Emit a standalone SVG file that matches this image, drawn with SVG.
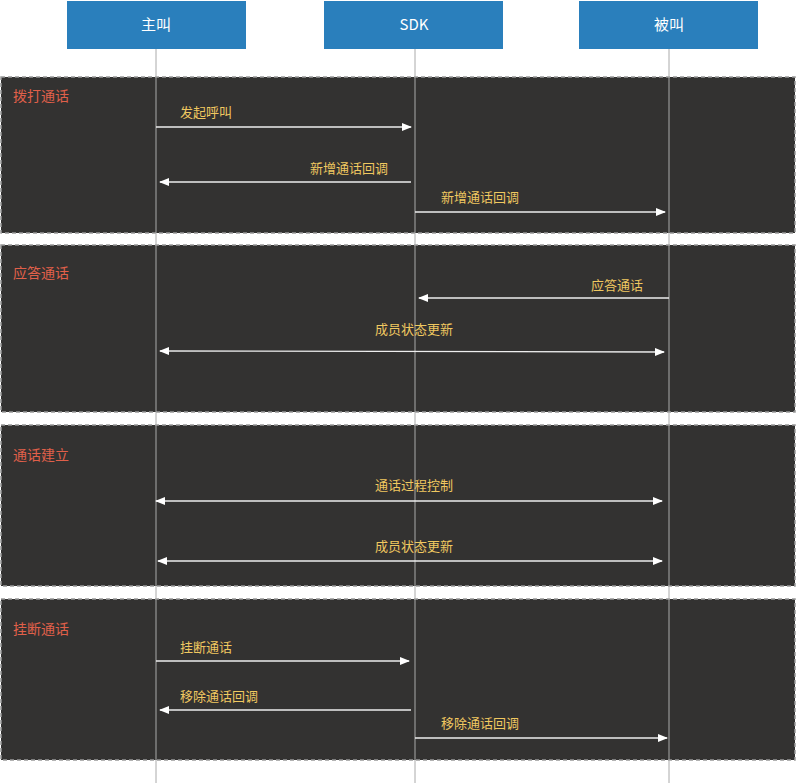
<svg xmlns="http://www.w3.org/2000/svg" width="796" height="783" viewBox="0 0 796 783">
<style>
.sec{fill:#333231;stroke:#999;stroke-width:1.5;stroke-dasharray:4 3}
.hd{fill:#2a7fbc}
.ht{fill:#fff;font:15px "Noto Sans CJK SC","Liberation Sans",sans-serif;text-anchor:middle}
.st{fill:#e0604a;font:14px "Noto Sans CJK SC",sans-serif}
.lb{fill:#f0c860;font:13px "Noto Sans CJK SC",sans-serif}
.life{stroke:#aaa;stroke-width:1}
.ar{stroke:#eee;stroke-width:1.3;fill:none}
</style>
<defs>
<marker id="e" markerWidth="10" markerHeight="8" refX="9" refY="4" orient="auto-start-reverse" markerUnits="userSpaceOnUse"><path d="M0,0L10,4L0,8z" fill="#fff"/></marker>
</defs>
<rect width="796" height="783" fill="#fff"/>
<g id="sections">
<rect class="sec" x="1" y="77" width="794" height="156"/>
<rect class="sec" x="1" y="245" width="794" height="167"/>
<rect class="sec" x="1" y="425" width="794" height="161"/>
<rect class="sec" x="1" y="599" width="794" height="161"/>
<text class="st" x="13" y="101">拨打通话</text>
<text class="st" x="13" y="278">应答通话</text>
<text class="st" x="13" y="460">通话建立</text>
<text class="st" x="13" y="634">挂断通话</text>
</g>
<g id="lifelines">
<line class="life" x1="156" y1="49" x2="156" y2="783"/>
<line class="life" x1="415" y1="49" x2="415" y2="783"/>
<line class="life" x1="669" y1="49" x2="669" y2="783"/>
</g>
<g id="caller"><rect class="hd" x="67" y="1" width="179" height="48"/><text class="ht" x="156" y="30">主叫</text></g>
<g id="sdk"><rect class="hd" x="324" y="1" width="179" height="48"/><text class="ht" x="414" y="30">SDK</text></g>
<g id="callee"><rect class="hd" x="579" y="1" width="179" height="48"/><text class="ht" x="669" y="30">被叫</text></g>
<g id="connectors">
<line class="ar" x1="156" y1="127" x2="411" y2="127" marker-end="url(#e)"/>
<text class="lb" x="180" y="117">发起呼叫</text>
<line class="ar" x1="411" y1="182" x2="160" y2="182" marker-end="url(#e)"/>
<text class="lb" x="310" y="173">新增通话回调</text>
<line class="ar" x1="415" y1="212" x2="665" y2="212" marker-end="url(#e)"/>
<text class="lb" x="441" y="202">新增通话回调</text>
<line class="ar" x1="669" y1="298" x2="419" y2="298" marker-end="url(#e)"/>
<text class="lb" x="591" y="290">应答通话</text>
<line class="ar" x1="160" y1="351" x2="664" y2="352" marker-start="url(#e)" marker-end="url(#e)"/>
<text class="lb" x="414" y="334" text-anchor="middle">成员状态更新</text>
<line class="ar" x1="156" y1="501" x2="662" y2="501" marker-start="url(#e)" marker-end="url(#e)"/>
<text class="lb" x="414" y="490" text-anchor="middle">通话过程控制</text>
<line class="ar" x1="158" y1="561" x2="662" y2="561" marker-start="url(#e)" marker-end="url(#e)"/>
<text class="lb" x="414" y="551" text-anchor="middle">成员状态更新</text>
<line class="ar" x1="156" y1="661" x2="409" y2="661" marker-end="url(#e)"/>
<text class="lb" x="180" y="652">挂断通话</text>
<line class="ar" x1="411" y1="710" x2="160" y2="710" marker-end="url(#e)"/>
<text class="lb" x="180" y="701">移除通话回调</text>
<line class="ar" x1="415" y1="738" x2="667" y2="738" marker-end="url(#e)"/>
<text class="lb" x="441" y="728">移除通话回调</text>
</g>
</svg>
